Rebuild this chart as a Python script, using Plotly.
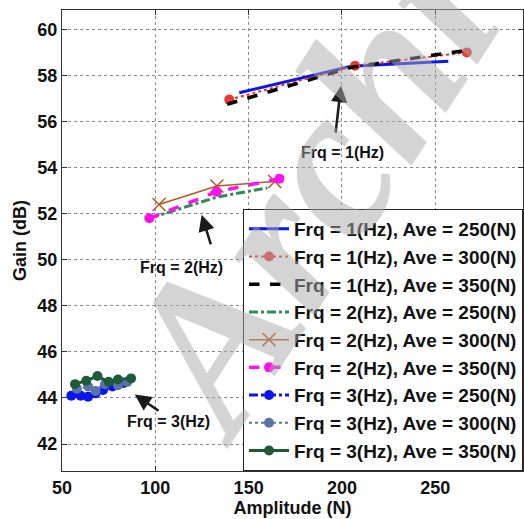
import plotly.graph_objects as go

# Gain vs amplitude for three excitation frequencies and three average loads
f1_250_x = [145, 205, 257]
f1_250_y = [57.25, 58.4, 58.62]
f1_300_x = [139.6, 207, 266.9]
f1_300_y = [56.95, 58.42, 59.0]
f1_350_x = [138.5, 205, 267.5]
f1_350_y = [56.75, 58.35, 59.1]

f2_250_x = [97, 133, 160]
f2_250_y = [51.8, 52.72, 53.12]
f2_300_x = [102, 133, 164]
f2_300_y = [52.4, 53.2, 53.4]
f2_350_x = [96.8, 132.9, 166.5]
f2_350_y = [51.8, 52.95, 53.52]

f3_250_x = [55, 60, 64, 68, 72, 77, 83]
f3_250_y = [44.1, 44.1, 44.05, 44.2, 44.35, 44.5, 44.65]
f3_300_x = [58, 64, 68, 73, 80, 85]
f3_300_y = [44.4, 44.5, 44.3, 44.6, 44.55, 44.7]
f3_350_x = [57, 63, 69, 75, 80, 87]
f3_350_y = [44.6, 44.75, 44.95, 44.7, 44.8, 44.85]

names = [
    "Frq = 1(Hz), Ave = 250(N)", "Frq = 1(Hz), Ave = 300(N)", "Frq = 1(Hz), Ave = 350(N)",
    "Frq = 2(Hz), Ave = 250(N)", "Frq = 2(Hz), Ave = 300(N)", "Frq = 2(Hz), Ave = 350(N)",
    "Frq = 3(Hz), Ave = 250(N)", "Frq = 3(Hz), Ave = 300(N)", "Frq = 3(Hz), Ave = 350(N)",
]

x_ticks = [50, 100, 150, 200, 250]
y_ticks = [42, 44, 46, 48, 50, 52, 54, 56, 58, 60]

# callout labels: (text, text x, text y, arrow tail x, tail y, head x, head y)
callouts = [
    ("Frq = 1(Hz)", 200.5, 54.65, 196.5, 55.45, 199.5, 57.55),
    ("Frq = 2(Hz)", 114, 49.67, 130, 50.6, 124.8, 51.95),
    ("Frq = 3(Hz)", 107, 42.97, 102.5, 43.4, 89.0, 44.15),
]

series = [
    (f1_250_x, f1_250_y, dict(color="#0a14f0", width=3, dash="solid"), None),
    (f1_300_x, f1_300_y, dict(color="#f03020", width=2, dash="dot"),
     dict(symbol="circle", size=10, color="#e83a30")),
    (f1_350_x, f1_350_y, dict(color="#000000", width=3.5, dash="dash"), None),
    (f2_250_x, f2_250_y, dict(color="#2e8b57", width=3, dash="dashdot"), None),
    (f2_300_x, f2_300_y, dict(color="#b8561e", width=1.5, dash="solid"),
     dict(symbol="x-thin", size=13, line=dict(color="#b8561e", width=1.5))),
    (f2_350_x, f2_350_y, dict(color="#ff10f0", width=3.5, dash="dash"),
     dict(symbol="circle", size=10, color="#ff10f0")),
    (f3_250_x, f3_250_y, dict(color="#0a14f0", width=3, dash="dashdot"),
     dict(symbol="circle", size=10, color="#0a14f0")),
    (f3_300_x, f3_300_y, dict(color="#5a74a8", width=2, dash="dot"),
     dict(symbol="circle", size=10, color="#5a74a8")),
    (f3_350_x, f3_350_y, dict(color="#1e5a38", width=3, dash="solid"),
     dict(symbol="circle", size=10, color="#1e5a38")),
]

fig = go.Figure()
for (xs, ys, ln, mk), nm in zip(series, names):
    fig.add_trace(go.Scatter(
        x=xs, y=ys, name="<b>" + nm + "</b>",
        mode="lines+markers" if mk else "lines",
        line=ln, marker=mk,
    ))

annotations = []
for txt, tx, ty, ax, ay, hx, hy in callouts:
    annotations.append(dict(
        x=hx, y=hy, ax=ax, ay=ay, xref="x", yref="y", axref="x", ayref="y",
        text="", showarrow=True, arrowhead=2, arrowsize=1.3, arrowwidth=2.5,
        arrowcolor="#1a1a1a",
    ))
    annotations.append(dict(
        x=tx, y=ty, xref="x", yref="y", text="<b>" + txt + "</b>",
        showarrow=False, font=dict(family="Liberation Sans", size=16, color="#111"),
    ))

# faint diagonal watermark lettering
annotations.append(dict(
    x=0.53, y=0.60, xref="paper", yref="paper", xanchor="center", yanchor="middle",
    text="<b><i>Archi</i></b>",
    showarrow=False, textangle=-57,
    font=dict(family="Liberation Serif", size=215, color="rgba(170,170,170,0.5)"),
))

fig.update_layout(
    width=524, height=519,
    margin=dict(l=62, r=1, t=10, b=48),
    paper_bgcolor="white", plot_bgcolor="white",
    font=dict(family="Liberation Sans", size=18, color="#111"),
    showlegend=True,
    legend=dict(
        x=1, y=0, xanchor="right", yanchor="bottom",
        bgcolor="white", bordercolor="#222", borderwidth=1,
        font=dict(family="Liberation Sans", size=19, color="#111"),
        tracegroupgap=0, itemwidth=40,
    ),
    annotations=annotations,
)

axis_common = dict(
    showline=True, linecolor="#333", linewidth=1, mirror="ticks",
    ticks="inside", ticklen=5, tickcolor="#333",
    showgrid=True, gridcolor="#888", griddash="dot", gridwidth=1,
    zeroline=False,
    tickfont=dict(family="Liberation Sans", size=18, color="#111"),
)

fig.update_xaxes(
    range=[50, 297], tickvals=x_ticks, ticktext=["<b>%d</b>" % v for v in x_ticks],
    title=dict(text="<b>Amplitude (N)</b>", standoff=0,
               font=dict(family="Liberation Sans", size=18, color="#111")),
    **axis_common,
)
fig.update_yaxes(
    range=[40.83, 60.84], tickvals=y_ticks, ticktext=["<b>%d</b>" % v for v in y_ticks],
    title=dict(text="<b>Gain (dB)</b>", standoff=6,
               font=dict(family="Liberation Sans", size=18, color="#111")),
    **axis_common,
)

fig.write_html("out.html")
